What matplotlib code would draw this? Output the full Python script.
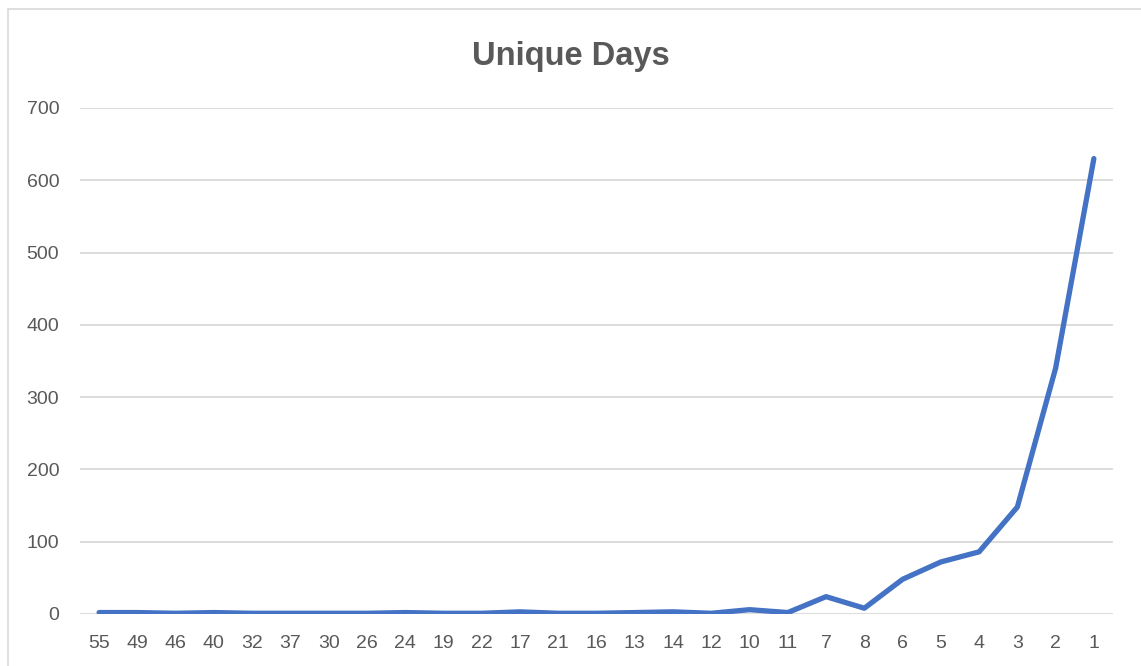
import matplotlib.pyplot as plt
from matplotlib.patches import Rectangle

# data
categories = ["55", "49", "46", "40", "32", "37", "30", "26", "24", "19", "22", "17", "21", "16",
              "13", "14", "12", "10", "11", "7", "8", "6", "5", "4", "3", "2", "1"]
unique_days = [2, 2, 1, 2, 1, 1, 1, 1, 2, 1, 1, 3, 1, 1,
               2, 3, 1, 6, 2, 24, 8, 48, 72, 86, 148, 340, 630]
y_ticks = [0, 100, 200, 300, 400, 500, 600, 700]

text_color = "#595959"
grid_color = "#d9d9d9"
line_color = "#4472C4"

plt.rcParams["font.family"] = ["Liberation Sans", "DejaVu Sans"]

fig = plt.figure(figsize=(11.41, 6.66), dpi=100)
ax = fig.add_axes([80 / 1141, 1 - 614 / 666, (1113 - 80) / 1141, (614 - 108) / 666])

x = range(len(categories))
ax.plot(x, unique_days, color=line_color, linewidth=3.8,
        solid_joinstyle="round", solid_capstyle="round", zorder=3)

ax.set_xlim(-0.5, len(categories) - 0.5)
ax.set_ylim(0, 700)
ax.set_yticks(y_ticks)
ax.set_xticks(list(x))
ax.set_xticklabels(categories)
ax.tick_params(axis="both", length=0, labelsize=14, colors=text_color)
ax.tick_params(axis="y", pad=15)
ax.tick_params(axis="x", pad=15)
ax.yaxis.grid(True, color=grid_color, linewidth=1.3)
ax.set_axisbelow(True)
for s in ax.spines.values():
    s.set_visible(False)

fig.text(0.5, 1 - 64.5 / 666, "Unique Days", ha="center", va="baseline",
         fontsize=23.5, fontweight="bold", color=text_color)

# chart frame (cropped at right and bottom)
fig.patches.append(Rectangle((8 / 1141, -0.1), 1.2, 1.1 - 9 / 666, transform=fig.transFigure,
                             fill=False, edgecolor="#d9d9d9", linewidth=1.2))

fig.savefig("out.png", dpi=100)
